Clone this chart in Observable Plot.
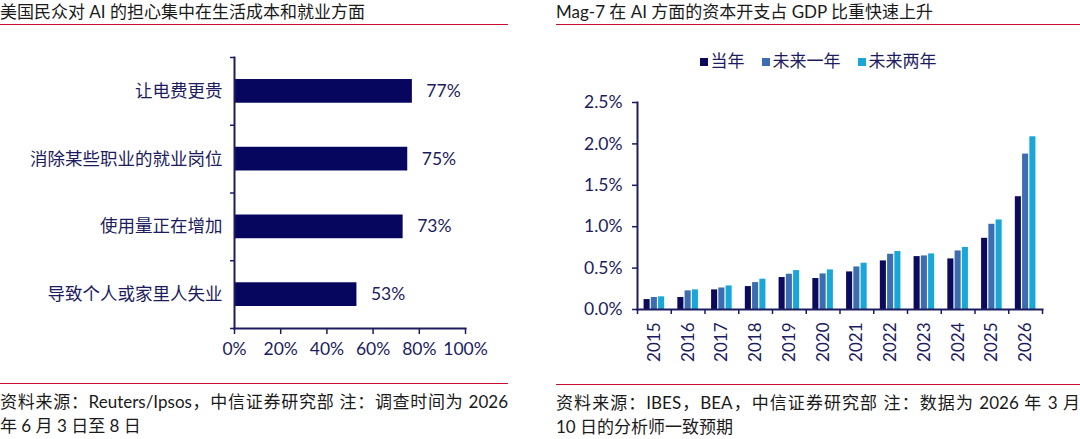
<!DOCTYPE html>
<html>
<head>
<meta charset="utf-8">
<script src="https://cdn.jsdelivr.net/npm/d3@7"></script>
<script src="https://cdn.jsdelivr.net/npm/@observablehq/plot@0.6"></script>
<style>
  html, body { margin: 0; padding: 0; background: #fff; }
  body { width: 1080px; height: 439px; position: relative; overflow: hidden;
         font-family: Lato, "Noto Sans CJK SC", sans-serif; color: #1a1a1a; }
  .panel { position: absolute; top: 0; }
  .title { height: 24px; line-height: 24px; font-size: 17px; border-bottom: 1px solid #c8102e; white-space: nowrap; }
  .caption { border-top: 1px solid #c8102e; font-size: 17px; line-height: 24px; padding-top: 6px;
             text-align: justify; text-align-last: left; color: #1a1a1a; }
  .nw { white-space: nowrap; }
  .legend { height: 20px; line-height: 20px; margin-top: 26px; display: flex; justify-content: center;
            font-size: 17px; color: #1c1c5e; gap: 17px; }
  .legend span.sw { display: inline-block; width: 8px; height: 8px; margin-right: 3px; vertical-align: 1px; }
  svg { display: block; }
</style>
</head>
<body>
<div class="panel" id="left" style="left:0; width:508px;">
  <div class="title">美国民众对 AI 的担心集中在生活成本和就业方面</div>
  <div id="leftChart"></div>
  <div class="caption">资料来源：Reuters/Ipsos，中信证券研究部 注：调查时间为 2026 年 6 月 3 日至 8 日</div>
</div>
<div class="panel" id="right" style="left:556px; width:524px;">
  <div class="title">Mag-7 在 AI 方面的资本开支占 GDP 比重快速上升</div>
  <div class="legend" id="legend"></div>
  <div id="rightChart"></div>
  <div class="caption">资料来源：IBES，BEA，中信证券研究部 注：数据为 2026 年 3 月 <span class="nw">10 日</span>的分析师一致预期</div>
</div>
<script>
// ---- Left chart data ----
const concerns = ["让电费更贵", "消除某些职业的就业岗位", "使用量正在增加", "导致个人或家里人失业"];
const shares = [77, 75, 73, 53];
const shareTicks = [0, 20, 40, 60, 80, 100];

// ---- Right chart data ----
const years = ["2015", "2016", "2017", "2018", "2019", "2020", "2021", "2022", "2023", "2024", "2025", "2026"];
const currentYear = [0.12, 0.145, 0.237, 0.277, 0.386, 0.374, 0.454, 0.587, 0.639, 0.611, 0.86, 1.362];
const nextYear = [0.145, 0.225, 0.26, 0.325, 0.426, 0.43, 0.514, 0.667, 0.647, 0.707, 1.029, 1.877];
const twoYears = [0.153, 0.237, 0.285, 0.366, 0.47, 0.478, 0.559, 0.70, 0.671, 0.75, 1.081, 2.086];
const seriesNames = ["当年", "未来一年", "未来两年"];
const seriesColors = ["#0b0b5e", "#3c6db0", "#19a7d8"];
const capexTicks = [0, 0.5, 1, 1.5, 2, 2.5];

const navy = "#1c1c5e";
const font = "Lato, 'Noto Sans CJK SC', sans-serif";
const fs = 17.5;

// ---- Left chart ----
const leftRows = concerns.map((c, i) => ({i, c, v: shares[i]}));
const halfBar = 0.175;
const leftPlot = Plot.plot({
  width: 508, height: 358,
  marginTop: 32, marginBottom: 55, marginLeft: 234, marginRight: 43,
  style: {fontFamily: font, fontSize: fs + "px", color: navy, background: "transparent", overflow: "visible"},
  x: {domain: [0, 100]},
  y: {domain: [concerns.length - 0.5, -0.5]},
  marks: [
    Plot.rectX(leftRows, {x1: 0, x2: "v", y1: d => d.i - halfBar, y2: d => d.i + halfBar, fill: "#06065e"}),
    Plot.text(leftRows, {x: "v", y: "i", text: d => d.v + "%", textAnchor: "start", dx: 14, fill: navy, fontSize: fs}),
    Plot.axisY({ticks: d3.range(concerns.length + 1).map(k => k - 0.5), tickSize: 4, strokeWidth: 1.5, tickFormat: () => "", label: null}),
    Plot.axisY({ticks: d3.range(concerns.length), tickSize: 0, tickPadding: 12, tickFormat: i => concerns[i], label: null, fontSize: fs}),
    Plot.axisX({ticks: shareTicks, tickSize: 6, tickPadding: 8, strokeWidth: 1.5, tickFormat: d => d + "%", label: null, fontSize: fs}),
    Plot.frame({anchor: "left", stroke: navy, strokeWidth: 2}),
    Plot.frame({anchor: "bottom", stroke: navy, strokeWidth: 2})
  ]
});
document.getElementById("leftChart").append(leftPlot);

// ---- Right legend ----
const legend = document.getElementById("legend");
seriesNames.forEach((n, k) => {
  const item = document.createElement("div");
  item.innerHTML = `<span class="sw" style="background:${seriesColors[k]}"></span>${n}`;
  legend.append(item);
});

// ---- Right chart ----
const seriesValues = [currentYear, nextYear, twoYears];
const rightRows = [];
years.forEach((y, i) => seriesValues.forEach((vals, s) => rightRows.push({i, year: y, s, series: seriesNames[s], v: vals[i]})));
const barW = 0.09, barStep = 0.215;
const rightPlot = Plot.plot({
  width: 524, height: 313,
  marginTop: 31, marginBottom: 75, marginLeft: 81, marginRight: 38,
  style: {fontFamily: font, fontSize: fs + "px", color: navy, background: "transparent", overflow: "visible"},
  x: {domain: [-0.5, years.length - 0.5]},
  y: {domain: [0, 2.5]},
  color: {domain: seriesNames, range: seriesColors},
  marks: [
    Plot.rectY(rightRows, {
      x1: d => d.i + (d.s - 1) * barStep - barW,
      x2: d => d.i + (d.s - 1) * barStep + barW,
      y1: 0, y2: "v", fill: "series"
    }),
    Plot.axisY({ticks: capexTicks, tickSize: 5, tickPadding: 10, strokeWidth: 1.5, tickFormat: d => d.toFixed(1) + "%", label: null, fontSize: fs}),
    Plot.axisX({ticks: d3.range(years.length + 1).map(k => k - 0.5), tickSize: 5, strokeWidth: 1.5, tickFormat: () => "", label: null}),
    Plot.axisX({ticks: d3.range(years.length), tickSize: 0, tickPadding: 13, tickRotate: -90, tickFormat: i => years[i], label: null, fontSize: 17}),
    Plot.frame({anchor: "left", stroke: navy, strokeWidth: 2}),
    Plot.frame({anchor: "bottom", stroke: navy, strokeWidth: 2})
  ]
});
document.getElementById("rightChart").append(rightPlot);
</script>
</body>
</html>
